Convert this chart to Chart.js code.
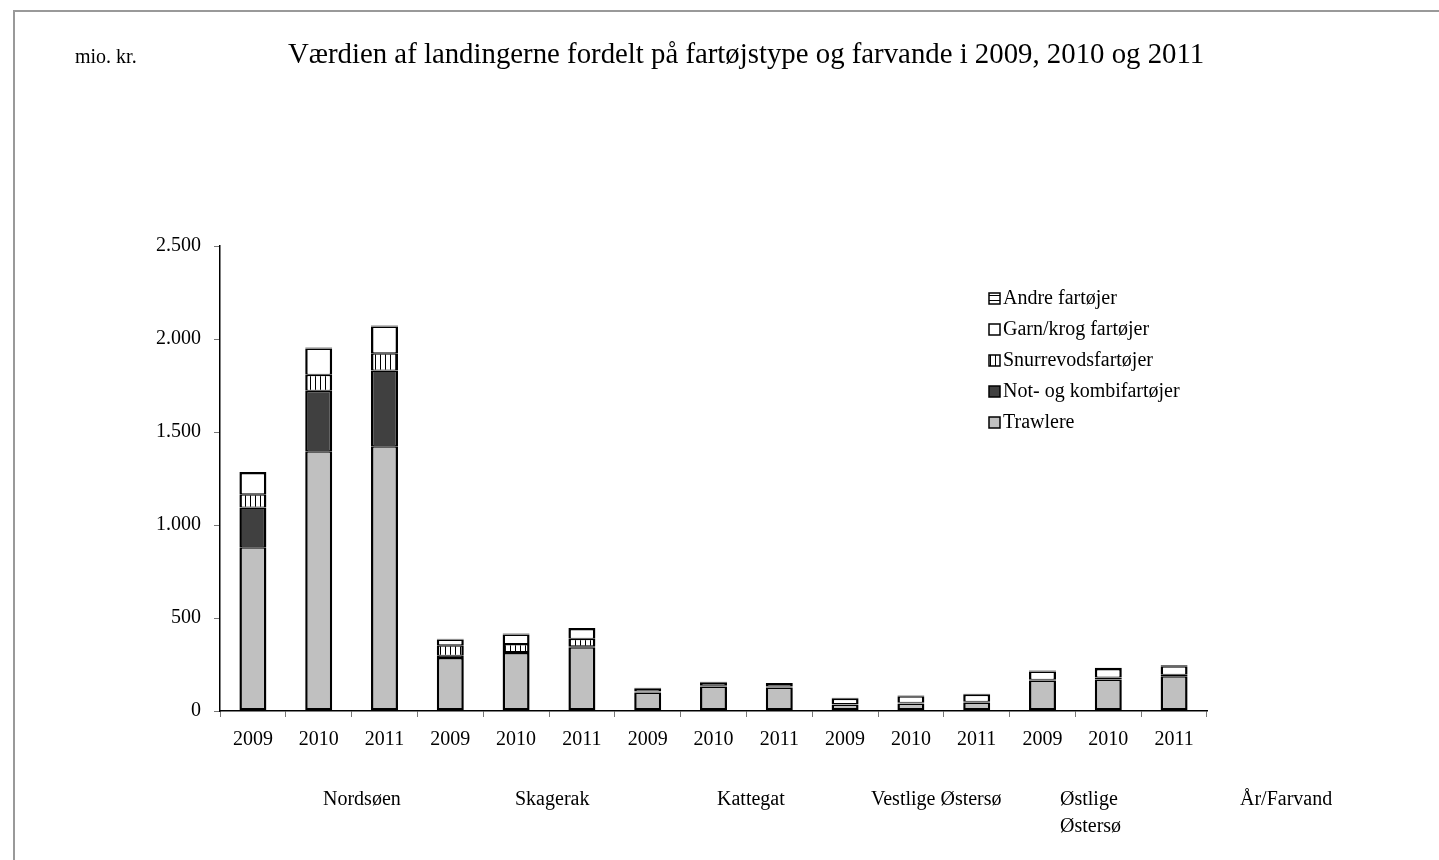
<!DOCTYPE html>
<html>
<head>
<meta charset="utf-8">
<script src="https://cdn.jsdelivr.net/npm/chart.js@4"></script>
<style>
  body { margin: 0; background: #fff; }
  #frame { position: absolute; left: 13px; top: 10px; width: 1439px; height: 860px;
           border-left: 2px solid #999; border-top: 2px solid #999; }
  #wrap { position: absolute; left: 0; top: 0; width: 1439px; height: 860px; }
</style>
</head>
<body>
<div id="frame"></div>
<div id="wrap"><canvas id="chart" width="1439" height="860"></canvas></div>
<script>
// categories
const years = ['2009', '2010', '2011', '2009', '2010', '2011', '2009', '2010', '2011',
               '2009', '2010', '2011', '2009', '2010', '2011'];
const areas = ['Nordsøen', 'Skagerak', 'Kattegat', 'Vestlige Østersø', ['Østlige', 'Østersø']];

// mio. kr.
const trawlere = [880, 1397, 1424, 285, 312, 343, 100, 132, 126, 33, 40, 46, 164, 170, 187];
const notKombi = [214, 325, 407, 12, 5, 5, 3, 3, 3, 2, 2, 2, 2, 8, 6];
const snurrevod = [71, 86, 92, 56, 43, 41, 3, 3, 3, 2, 2, 2, 2, 2, 2];
const garnKrog = [115, 141, 144, 31, 51, 52, 14, 14, 13, 29, 35, 38, 45, 46, 45];
const andre = [5, 5, 5, 5, 5, 5, 5, 5, 5, 5, 5, 5, 5, 6, 6];

const yTicks = [0, 500, 1000, 1500, 2000, 2500];

const FONT = "'Liberation Serif', 'Times New Roman', serif";

function makePattern(vertical) {
    const c = document.createElement('canvas');
    c.width = 5; c.height = 5;
    const g = c.getContext('2d');
    g.fillStyle = '#fff';
    g.fillRect(0, 0, 5, 5);
    g.fillStyle = '#000';
    if (vertical) g.fillRect(0, 0, 1, 5);
    else g.fillRect(0, 0, 5, 1);
    return document.getElementById('chart').getContext('2d').createPattern(c, 'repeat');
}

function fmt(v) {
    return String(v).replace(/\B(?=(\d{3})+(?!\d))/g, '.');
}

const snurrePattern = makePattern(true);
const andrePattern = makePattern(false);

function ds(label, data, fill, bottom) {
    return {
        label: label,
        data: data,
        backgroundColor: fill,
        borderColor: '#000',
        // thinner top/bottom so the joins between segments are not doubled up
        borderWidth: { top: 1.5, left: 2.5, right: 2.5, bottom: bottom ? 2.5 : 1 },
        borderSkipped: false,
        categoryPercentage: 1,
        barPercentage: 0.41
    };
}

const datasets = [
    ds('Trawlere', trawlere, '#c0c0c0', true),
    ds('Not- og kombifartøjer', notKombi, '#404040'),
    ds('Snurrevodsfartøjer', snurrevod, snurrePattern),
    ds('Garn/krog fartøjer', garnKrog, '#fff'),
    ds('Andre fartøjer', andre, andrePattern)
];

// texts, legend and group labels drawn on the canvas
const textPlugin = {
    id: 'texts',
    afterDraw(chart) {
        const ctx = chart.ctx;
        ctx.save();
        ctx.fillStyle = '#000';
        ctx.textBaseline = 'alphabetic';
        ctx.textAlign = 'left';

        ctx.font = '20px ' + FONT;
        ctx.fillText('mio. kr.', 75, 63);
        ctx.font = '28.8px ' + FONT;
        ctx.fillText('Værdien af landingerne fordelt på fartøjstype og farvande i 2009, 2010 og 2011', 288, 63);

        // group labels under the years
        ctx.font = '20px ' + FONT;
        const groupX = [323, 515, 717, 871, 1060];
        areas.forEach((a, i) => {
            const lines = Array.isArray(a) ? a : [a];
            lines.forEach((t, j) => ctx.fillText(t, groupX[i], 805 + j * 27));
        });
        ctx.fillText('År/Farvand', 1240, 805);

        // legend, top to bottom in reverse stacking order
        const items = chart.data.datasets.slice().reverse();
        items.forEach((d, i) => {
            const cy = 298 + i * 31;
            ctx.fillStyle = d.backgroundColor;
            ctx.fillRect(989, cy - 5, 11, 11);
            ctx.strokeStyle = '#000';
            ctx.lineWidth = 1.5;
            ctx.strokeRect(989, cy - 5, 11, 11);
            ctx.fillStyle = '#000';
            ctx.textBaseline = 'middle';
            ctx.fillText(d.label, 1003, cy + 1);
        });
        ctx.restore();
    }
};

new Chart(document.getElementById('chart'), {
    type: 'bar',
    data: { labels: years, datasets: datasets },
    options: {
        responsive: false,
        animation: false,
        layout: { padding: { top: 246, right: 1439 - 1207, left: 0, bottom: 0 } },
        plugins: { legend: { display: false }, tooltip: { enabled: false } },
        scales: {
            x: {
                stacked: true,
                grid: { offset: true, drawOnChartArea: false, tickLength: 6, color: '#777' },
                border: { color: '#000', width: 1.5 },
                ticks: { color: '#000', font: { family: FONT, size: 20 }, padding: 11, maxRotation: 0, autoSkip: false },
                afterFit(scale) { scale.height = 860 - 711; }
            },
            y: {
                stacked: true,
                min: 0,
                max: 2500,
                afterBuildTicks(scale) { scale.ticks = yTicks.map(v => ({ value: v })); },
                grid: { drawOnChartArea: false, tickLength: 6, color: '#777' },
                border: { color: '#000', width: 1.5 },
                ticks: { color: '#000', font: { family: FONT, size: 20 }, padding: 13, callback: v => fmt(v) },
                afterFit(scale) { scale.width = 220; }
            }
        }
    },
    plugins: [textPlugin]
});
</script>
</body>
</html>
